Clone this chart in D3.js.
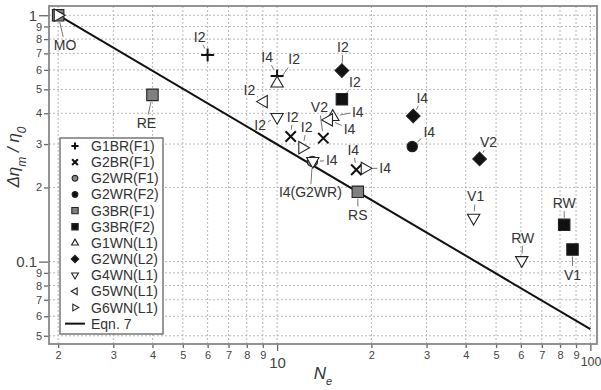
<!DOCTYPE html>
<html>
<head>
<meta charset="utf-8">
<script src="https://cdn.jsdelivr.net/npm/d3@7"></script>
<style>
  html, body { margin: 0; padding: 0; background: #fff; }
  svg { display: block; font-family: "Liberation Sans", Arial, Helvetica, sans-serif; }
</style>
</head>
<body>
<svg id="chart" width="601" height="390"></svg>
<script>
// ---- data: [Ne, Δη_m/η_0, tag] per specimen group ----
const seriesNames = ["G1BR(F1)", "G2BR(F1)", "G2WR(F1)", "G2WR(F2)", "G3BR(F1)", "G3BR(F2)",
                     "G1WN(L1)", "G2WN(L2)", "G4WN(L1)", "G5WN(L1)", "G6WN(L1)"];
const g1brF1 = [[6.0, 0.69, "I2"], [10.0, 0.567, "I4"]];
const g2brF1 = [[11.05, 0.322, "I2"], [14.05, 0.317, "V2"], [17.9, 0.236, "I4"]];
const g2wrF1 = [[12.96, 0.255, "I4(G2WR)"]];
const g2wrF2 = [[27.0, 0.293, "I4"]];
const g3brF1 = [[2.0, 1.0, "MO"], [4.0, 0.475, "RE"], [18.1, 0.192, "RS"]];
const g3brF2 = [[16.1, 0.456, "I2"], [82.5, 0.141, "RW"], [87.7, 0.112, "V1"]];
const g1wnL1 = [[10.0, 0.53, "I2"], [15.06, 0.388, "I4"]];
const g2wnL2 = [[16.1, 0.596, "I2"], [27.2, 0.39, "I4"], [44.3, 0.261, "V2"]];
const g4wnL1 = [[10.0, 0.385, "I2"], [13.0, 0.255, "I4"], [42.4, 0.15, "V1"], [60.4, 0.101, "RW"]];
const g5wnL1 = [[9.04, 0.446, "I2"], [14.6, 0.376, "I4"]];
const g6wnL1 = [[2.0, 1.0, "MO"], [12.07, 0.29, "I2"], [19.1, 0.239, "I4"]];
const seriesData = [g1brF1, g2brF1, g2wrF1, g2wrF2, g3brF1, g3brF2, g1wnL1, g2wnL2, g4wnL1, g5wnL1, g6wnL1];

// Eqn. 7: Δη_m/η_0 = (N_e/2)^-0.75, drawn between its two end points
const eqnNe = [2, 100];
const eqnVal = [1.0, 0.0532];

// axis ticks
const xTicks = [2, 3, 4, 5, 6, 7, 8, 9, 10, 20, 30, 40, 50, 60, 70, 80, 90, 100];
const xTickLabels = ["2", "3", "4", "5", "6", "7", "8", "9", "10", "2", "3", "4", "5", "6", "7", "8", "9", "100"];
const xMajor = [10, 100];
const yTicks = [0.05, 0.06, 0.07, 0.08, 0.09, 0.1, 0.2, 0.3, 0.4, 0.5, 0.6, 0.7, 0.8, 0.9, 1];
const yTickLabels = ["5", "6", "7", "8", "9", "0.1", "2", "3", "4", "5", "6", "7", "8", "9", "1"];
const yMajor = [0.1, 1];

// ---- styling / layout ----
const markerStyle = {
  "G1BR(F1)": { shape: "plus" },
  "G2BR(F1)": { shape: "cross" },
  "G2WR(F1)": { shape: "circle", fill: "#8a8a8a" },
  "G2WR(F2)": { shape: "circle", fill: "#111" },
  "G3BR(F1)": { shape: "square", fill: "#808080" },
  "G3BR(F2)": { shape: "square", fill: "#111" },
  "G1WN(L1)": { shape: "triUp", fill: "#fff" },
  "G2WN(L2)": { shape: "diamond", fill: "#111" },
  "G4WN(L1)": { shape: "triDown", fill: "#fff" },
  "G5WN(L1)": { shape: "triLeft", fill: "#fff" },
  "G6WN(L1)": { shape: "triRight", fill: "#fff" }
};
// label offsets from the marker centre, in px
const labelOffset = {
  "G1BR(F1):I2": [-8, -18], "G1BR(F1):I4": [-10, -19],
  "G2BR(F1):I2": [2, -20], "G2BR(F1):V2": [-4, -31], "G2BR(F1):I4": [-3, -20],
  "G2WR(F1):I4(G2WR)": [-2, 31],
  "G2WR(F2):I4": [17, -15],
  "G3BR(F1):MO": [7, 30], "G3BR(F1):RE": [-6, 28], "G3BR(F1):RS": [0, 23],
  "G3BR(F2):I2": [13, -17], "G3BR(F2):RW": [0, -22], "G3BR(F2):V1": [0, 25],
  "G1WN(L1):I2": [17, -24], "G1WN(L1):I4": [25, -5],
  "G2WN(L2):I2": [1, -24], "G2WN(L2):I4": [9, -18], "G2WN(L2):V2": [9, -17],
  "G4WN(L1):I2": [-17, 8], "G4WN(L1):I4": [19, -1], "G4WN(L1):V1": [2, -22], "G4WN(L1):RW": [1, -23],
  "G5WN(L1):I2": [-14, -12], "G5WN(L1):I4": [21, 9],
  "G6WN(L1):I2": [4, -21], "G6WN(L1):I4": [20, 0]
};

const svg = d3.select("#chart");
const plot = { left: 49, right: 597, top: 6, bottom: 344 };

const x = d3.scaleLog().domain([1.87, 105]).range([plot.left, plot.right]);
const y = d3.scaleLog().domain([0.0463, 1.09]).range([plot.bottom, plot.top]);

const gridColor = "#b8b8b8";
const inkColor = "#333";

// grid
const grid = svg.append("g");
grid.selectAll("line.vx").data(xTicks).join("line")
  .attr("x1", d => x(d)).attr("x2", d => x(d))
  .attr("y1", plot.top).attr("y2", plot.bottom)
  .attr("stroke", gridColor).attr("stroke-width", 1).attr("stroke-dasharray", "2,2");
grid.selectAll("line.hy").data(yTicks).join("line")
  .attr("x1", plot.left).attr("x2", plot.right)
  .attr("y1", d => y(d)).attr("y2", d => y(d))
  .attr("stroke", gridColor).attr("stroke-width", 1).attr("stroke-dasharray", "2,2");

// axes: minor and major ticks drawn separately for their own tick lengths and fonts
function xLabel(d) { return xTickLabels[xTicks.indexOf(d)]; }
function yLabel(d) { return yTickLabels[yTicks.indexOf(d)]; }

const xMinorAxis = d3.axisBottom(x).tickValues(xTicks.filter(d => !xMajor.includes(d)))
  .tickFormat(xLabel).tickSize(4).tickPadding(3);
const xMajorAxis = d3.axisBottom(x).tickValues(xMajor)
  .tickFormat(xLabel).tickSize(7).tickPadding(6);
const yMinorAxis = d3.axisLeft(y).tickValues(yTicks.filter(d => !yMajor.includes(d)))
  .tickFormat(yLabel).tickSize(5).tickPadding(2);
const yMajorAxis = d3.axisLeft(y).tickValues(yMajor)
  .tickFormat(yLabel).tickSize(10).tickPadding(2);

function styleAxis(g, size) {
  g.select(".domain").remove();
  g.selectAll(".tick line").attr("stroke", "#666").attr("stroke-width", 1.3);
  g.selectAll(".tick text").attr("fill", "#444").style("font-size", size + "px")
    .style("font-family", "\"Liberation Sans\", Arial, sans-serif");
}
svg.append("g").attr("transform", `translate(0,${plot.bottom})`).call(xMinorAxis).call(g => styleAxis(g, 11));
svg.append("g").attr("transform", `translate(0,${plot.bottom})`).call(xMajorAxis).call(g => styleAxis(g, 15))
  // the last decade label sits against the right edge of the canvas
  .selectAll(".tick text").filter(d => d === 100)
  .attr("text-anchor", "end").attr("x", 601 - x(100)).style("font-size", "12.5px");
svg.append("g").attr("transform", `translate(${plot.left},0)`).call(yMinorAxis).call(g => styleAxis(g, 11));
svg.append("g").attr("transform", `translate(${plot.left},0)`).call(yMajorAxis).call(g => styleAxis(g, 15));

// frame
svg.append("rect")
  .attr("x", plot.left).attr("y", plot.top)
  .attr("width", plot.right - plot.left).attr("height", plot.bottom - plot.top)
  .attr("fill", "none").attr("stroke", "#888").attr("stroke-width", 1.8);

// Eqn. 7 line
svg.append("path")
  .datum(eqnNe.map((n, i) => [n, eqnVal[i]]))
  .attr("d", d3.line().x(d => x(d[0])).y(d => y(d[1])))
  .attr("fill", "none").attr("stroke", "#111").attr("stroke-width", 2);

// marker shapes
function markerPath(shape, s) {
  const p = d3.path();
  switch (shape) {
    case "plus":
      p.moveTo(-s, 0); p.lineTo(s, 0); p.moveTo(0, -s); p.lineTo(0, s); break;
    case "cross": {
      const c = s * 0.8;
      p.moveTo(-c, -c); p.lineTo(c, c); p.moveTo(-c, c); p.lineTo(c, -c); break;
    }
    case "square": {
      const h = s * 0.88;
      p.rect(-h, -h, 2 * h, 2 * h); break;
    }
    case "circle":
      p.arc(0, 0, s * 0.8, 0, 2 * Math.PI); p.closePath(); break;
    case "diamond": {
      const h = s * 1.05;
      p.moveTo(0, -h); p.lineTo(h, 0); p.lineTo(0, h); p.lineTo(-h, 0); p.closePath(); break;
    }
    case "triUp":
      p.moveTo(0, -s * 1.05); p.lineTo(s * 0.95, s * 0.6); p.lineTo(-s * 0.95, s * 0.6); p.closePath(); break;
    case "triDown":
      p.moveTo(0, s * 1.05); p.lineTo(s * 0.95, -s * 0.6); p.lineTo(-s * 0.95, -s * 0.6); p.closePath(); break;
    case "triLeft":
      p.moveTo(-s * 1.05, 0); p.lineTo(s * 0.6, -s * 0.95); p.lineTo(s * 0.6, s * 0.95); p.closePath(); break;
    case "triRight":
      p.moveTo(s * 1.05, 0); p.lineTo(-s * 0.6, -s * 0.95); p.lineTo(-s * 0.6, s * 0.95); p.closePath(); break;
  }
  return p.toString();
}
function drawMarker(sel, name, s) {
  const st = markerStyle[name];
  const open = st.shape === "plus" || st.shape === "cross";
  sel.attr("d", markerPath(st.shape, s))
    .attr("fill", open ? "none" : st.fill)
    .attr("stroke", open ? "#111" : "#222")
    .attr("stroke-width", open ? 2 : 1.1)
    .attr("stroke-linejoin", "miter");
}

// labels with leader lines (drawn under markers)
const labelFont = 14;
const leaders = svg.append("g");
const labels = svg.append("g");
const marks = svg.append("g");

seriesNames.forEach((name, si) => {
  seriesData[si].forEach(([ne, val, tag]) => {
    const px = x(ne), py = y(val);
    marks.append("path").attr("transform", `translate(${px},${py})`).call(drawMarker, name, 6.5);
    const off = labelOffset[name + ":" + tag];
    if (!off) return;
    const lx = px + off[0], ly = py + off[1];
    const t = labels.append("text")
      .attr("x", lx).attr("y", ly).attr("dy", "0.36em")
      .attr("text-anchor", "middle")
      .attr("fill", inkColor).style("font-size", labelFont + "px")
      .text(tag);
    const w = t.node().getComputedTextLength();
    const len = Math.hypot(off[0], off[1]);
    const ux = off[0] / len, uy = off[1] / len;
    const start = 7;
    const tb = Math.min((w / 2 + 2) / Math.max(Math.abs(ux), 1e-6), (labelFont * 0.45 + 2) / Math.max(Math.abs(uy), 1e-6));
    if (len - tb > start) {
      leaders.append("line")
        .attr("x1", px + ux * start).attr("y1", py + uy * start)
        .attr("x2", lx - ux * tb).attr("y2", ly - uy * tb)
        .attr("stroke", "#777").attr("stroke-width", 1);
    }
  });
});

// legend
const legend = svg.append("g");
legend.append("rect")
  .attr("x", 60).attr("y", 138).attr("width", 103).attr("height", 196)
  .attr("fill", "#fff").attr("stroke", "#777").attr("stroke-width", 1.5);
const rowY = i => 146 + i * 16.15;
seriesNames.forEach((name, i) => {
  legend.append("path").attr("transform", `translate(75,${rowY(i)})`).call(drawMarker, name, 3.6);
  legend.append("text").attr("x", 91).attr("y", rowY(i)).attr("dy", "0.36em")
    .attr("fill", inkColor).style("font-size", "14px").text(name);
});
legend.append("line")
  .attr("x1", 65).attr("x2", 85).attr("y1", rowY(11)).attr("y2", rowY(11))
  .attr("stroke", "#111").attr("stroke-width", 2);
legend.append("text").attr("x", 91).attr("y", rowY(11)).attr("dy", "0.36em")
  .attr("fill", inkColor).style("font-size", "14px").text("Eqn. 7");

// axis titles
const yt = svg.append("text")
  .attr("transform", "translate(19,157) rotate(-90)")
  .attr("text-anchor", "middle").attr("fill", inkColor)
  .style("font-size", "17px").style("font-style", "italic");
yt.append("tspan").text("Δη");
yt.append("tspan").attr("baseline-shift", "sub").style("font-size", "12px").text("m");
yt.append("tspan").text(" / η");
yt.append("tspan").attr("baseline-shift", "sub").style("font-size", "12px").text("0");

const xt = svg.append("text")
  .attr("x", 323).attr("y", 379)
  .attr("text-anchor", "middle").attr("fill", inkColor)
  .style("font-size", "17px").style("font-style", "italic");
xt.append("tspan").text("N");
xt.append("tspan").attr("baseline-shift", "sub").style("font-size", "11px").text("e");
</script>
</body>
</html>
